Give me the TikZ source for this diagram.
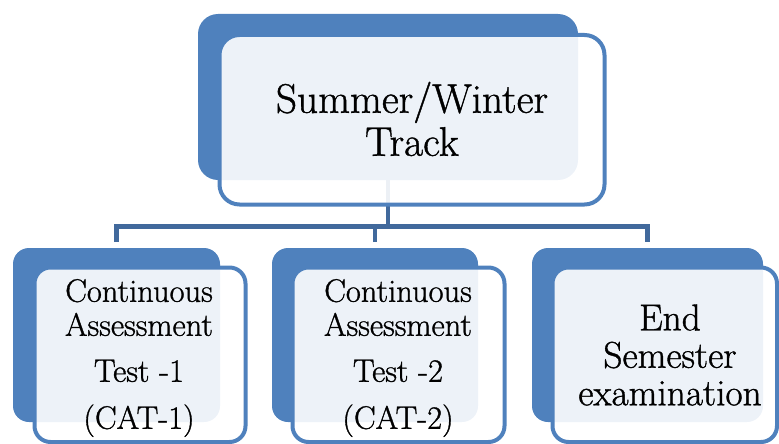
\documentclass[tikz,border=0pt]{standalone}
\usepackage{fontspec}
\setmainfont{Latin Modern Roman}[FakeBold=1.0]
\definecolor{accent}{HTML}{4F81BD}
\definecolor{connc}{HTML}{41699C}
\begin{document}
\begin{tikzpicture}[x=1pt,y=-1pt,
  back/.style={fill=accent, inner sep=0, outer sep=0, rounded corners=#1},
  front/.style={draw=accent, line width=4pt, fill=white, fill opacity=0.9, inner sep=0, outer sep=0, rounded corners=#1},
  conn/.style={draw=connc, line width=4.5pt},
  txt/.style={align=center, inner sep=0, text=black}]
\useasboundingbox (0,0) rectangle (779,444);
% back panels
\node[back=20, minimum width=380pt, minimum height=166pt] (topback) at (388,97) {};
\node[back=16, minimum width=207pt, minimum height=174pt] (b1back) at (116.5,335) {};
\node[back=16, minimum width=206pt, minimum height=174pt] (b2back) at (375,335) {};
\node[back=16, minimum width=231pt, minimum height=174pt] (b3back) at (647.5,335) {};
% connectors
\coordinate (hub) at (388,226.5);
\draw[conn] (topback.south) -- (hub);
\draw[conn] ([yshift=6pt]b1back.north) |- (hub) -| ([yshift=6pt]b3back.north);
\draw[conn] ([yshift=6pt]b2back.north) -- (b2back.north |- hub);
% front panels
\node[front=20, minimum width=385pt, minimum height=169.5pt] (topfront) at (412,119.75) {};
\node[front=16, minimum width=211pt, minimum height=174.5pt] (b1front) at (140,354.75) {};
\node[front=16, minimum width=212pt, minimum height=174.5pt] (b2front) at (398.5,354.75) {};
\node[front=16, minimum width=224.5pt, minimum height=174.5pt] (b3front) at (664.75,354.75) {};
% texts
\node[txt, font=\fontsize{41.3}{43}\selectfont] (ttop) at (412,119) {Summer/Winter\\Track};
\node[txt, font=\fontsize{32.5}{34}\selectfont] (t1) at (139,358) {Continuous\\Assessment\\[12pt]Test -1\\[13pt](CAT-1)};
\node[txt, font=\fontsize{32.5}{34}\selectfont] (t2) at (398,358) {Continuous\\Assessment\\[12pt]Test -2\\[13pt](CAT-2)};
\node[txt, font=\fontsize{37.3}{37.5}\selectfont] (t3) at (670,355) {End\\Semester\\examination};
\end{tikzpicture}
\end{document}
